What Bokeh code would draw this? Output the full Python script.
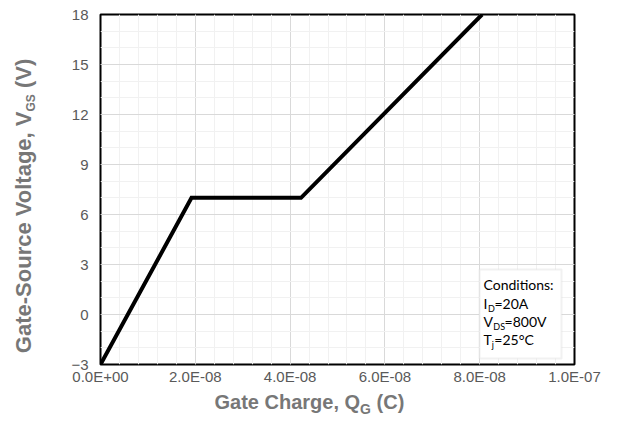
import math
from bokeh.plotting import figure
from bokeh.layouts import row, column
from bokeh.models import (Range1d, SingleIntervalTicker, CustomJSTickFormatter,
                          Label, BoxAnnotation)
from bokeh.embed import file_html
from bokeh.resources import INLINE

# ---- data ----
gate_charge = [0.0, 1.92e-8, 4.23e-8, 8.05e-8]   # C
gate_voltage = [-3.0, 7.0, 7.0, 18.0]           # V

x_title = ["Gate Charge, Q", "G", "(C)"]
y_title = ["Gate-Source Voltage, V", "GS", "(V)"]
conditions = [
    [("Conditions:", False)],
    [("I", False), ("D", True), ("=20A", False)],
    [("V", False), ("DS", True), ("=800V", False)],
    [("T", False), ("j", True), ("=25\u00b0C", False)],
]

TICK_COLOR = "#595959"
TITLE_COLOR = "#777777"
FONT = "Liberation Sans"
BASE_FIX = 0.37    # observed offset of the alphabetic baseline, in em

YT_W = 44          # width of the y-title strip
MAIN_W = 602 - YT_W
MAIN_H = 388
XT_H = 416 - MAIN_H


def add_text(fig, x, y, text, size, color, bold=True, rotated=False,
             align="left", font=FONT):
    if rotated:
        x = x - BASE_FIX * size
    else:
        y = y + BASE_FIX * size
    fig.add_layout(Label(x=x, y=y, x_units="screen", y_units="screen", text=text,
                         text_font=font, text_font_size=f"{size}px",
                         text_font_style="bold" if bold else "normal",
                         text_color=color, angle=math.pi / 2 if rotated else 0.0,
                         text_align=align, text_baseline="alphabetic"))


def blank(width, height):
    f = figure(width=width, height=height, output_backend="svg",
               toolbar_location=None, x_axis_location=None, y_axis_location=None,
               x_range=Range1d(0, 1), y_range=Range1d(0, 1), min_border=0)
    f.outline_line_color = None
    f.xgrid.visible = False
    f.ygrid.visible = False
    f.background_fill_color = "white"
    f.border_fill_color = "white"
    return f


# ---- main chart ----
p = figure(width=MAIN_W, height=MAIN_H, output_backend="svg", toolbar_location=None,
           x_range=Range1d(0, 1e-7), y_range=Range1d(-3, 18))
p.min_border_left = 100 - YT_W
p.min_border_right = 28
p.min_border_top = 14
p.min_border_bottom = MAIN_H - 364
p.outline_line_color = "black"
p.outline_line_width = 2
p.background_fill_color = "white"
p.border_fill_color = "white"

xt = SingleIntervalTicker(interval=2e-8, num_minor_ticks=5)
yt = SingleIntervalTicker(interval=3, num_minor_ticks=3)
p.xaxis.ticker = xt
p.yaxis.ticker = yt
p.xgrid.ticker = xt
p.ygrid.ticker = yt

p.xaxis.formatter = CustomJSTickFormatter(code="""
const s = Math.abs(tick) < 1e-20 ? (0).toExponential(1) : tick.toExponential(1);
const parts = s.split('e');
const sign = parts[1][0];
let d = parts[1].slice(1);
if (d.length < 2) d = '0' + d;
return parts[0] + 'E' + sign + d;
""")

for ax in (p.xaxis[0], p.yaxis[0]):
    ax.axis_line_color = None
    ax.major_tick_line_color = None
    ax.minor_tick_line_color = None
    ax.major_tick_out = 0
    ax.major_tick_in = 0
    ax.minor_tick_out = 0
    ax.major_label_text_font = FONT
    ax.major_label_text_font_size = "15px"
    ax.major_label_text_color = TICK_COLOR
p.xaxis.major_label_standoff = 3
p.yaxis.major_label_standoff = 12

for g in (p.xgrid[0], p.ygrid[0]):
    g.grid_line_color = "#d9d9d9"
    g.grid_line_width = 1
    g.minor_grid_line_color = "#f1f1f1"
    g.minor_grid_line_width = 1

p.line(gate_charge, gate_voltage, line_width=4, line_color="black",
       line_join="miter")

# ---- conditions box ----
p.add_layout(BoxAnnotation(left=379, right=461, top=95, bottom=6,
                           left_units="screen", right_units="screen",
                           top_units="screen", bottom_units="screen",
                           fill_color="white", fill_alpha=1.0,
                           line_color="#d0d0d0", line_width=2))

char_w = {"I": 4.6, "V": 9.8, "T": 8.2, "D": 6.4, "DS": 11.3, "j": 2.6}
base_y = [75, 56, 38, 20]
for line, by in zip(conditions, base_y):
    cx = 383
    for txt, sub in line:
        if sub:
            add_text(p, cx, by - 3, txt, 9, "black", bold=False, font="Lato")
        else:
            add_text(p, cx, by, txt, 14, "black", bold=False, font="Lato")
        cx += char_w.get(txt, 0)

# ---- x title strip (its frame is aligned with the chart frame) ----
xf = blank(MAIN_W, XT_H)
xs = 259.6
add_text(xf, xs, 7, x_title[0], 20, TITLE_COLOR, align="right")
add_text(xf, xs, 2, x_title[1], 14, TITLE_COLOR)
add_text(xf, xs + 10.9 + 5.6, 7, x_title[2], 20, TITLE_COLOR)

# ---- y title strip (rotated) ----
yf = blank(YT_W, 416)
ys = 305
add_text(yf, 31, ys, y_title[0], 22, TITLE_COLOR, rotated=True, align="right")
add_text(yf, 35, ys, y_title[1], 12, TITLE_COLOR, rotated=True)
add_text(yf, 31, ys + 17.3 + 6.1, y_title[2], 22, TITLE_COLOR, rotated=True)

layout = row(yf, column(p, xf, spacing=0), spacing=0)

open("out.html", "w").write(file_html(layout, INLINE))
